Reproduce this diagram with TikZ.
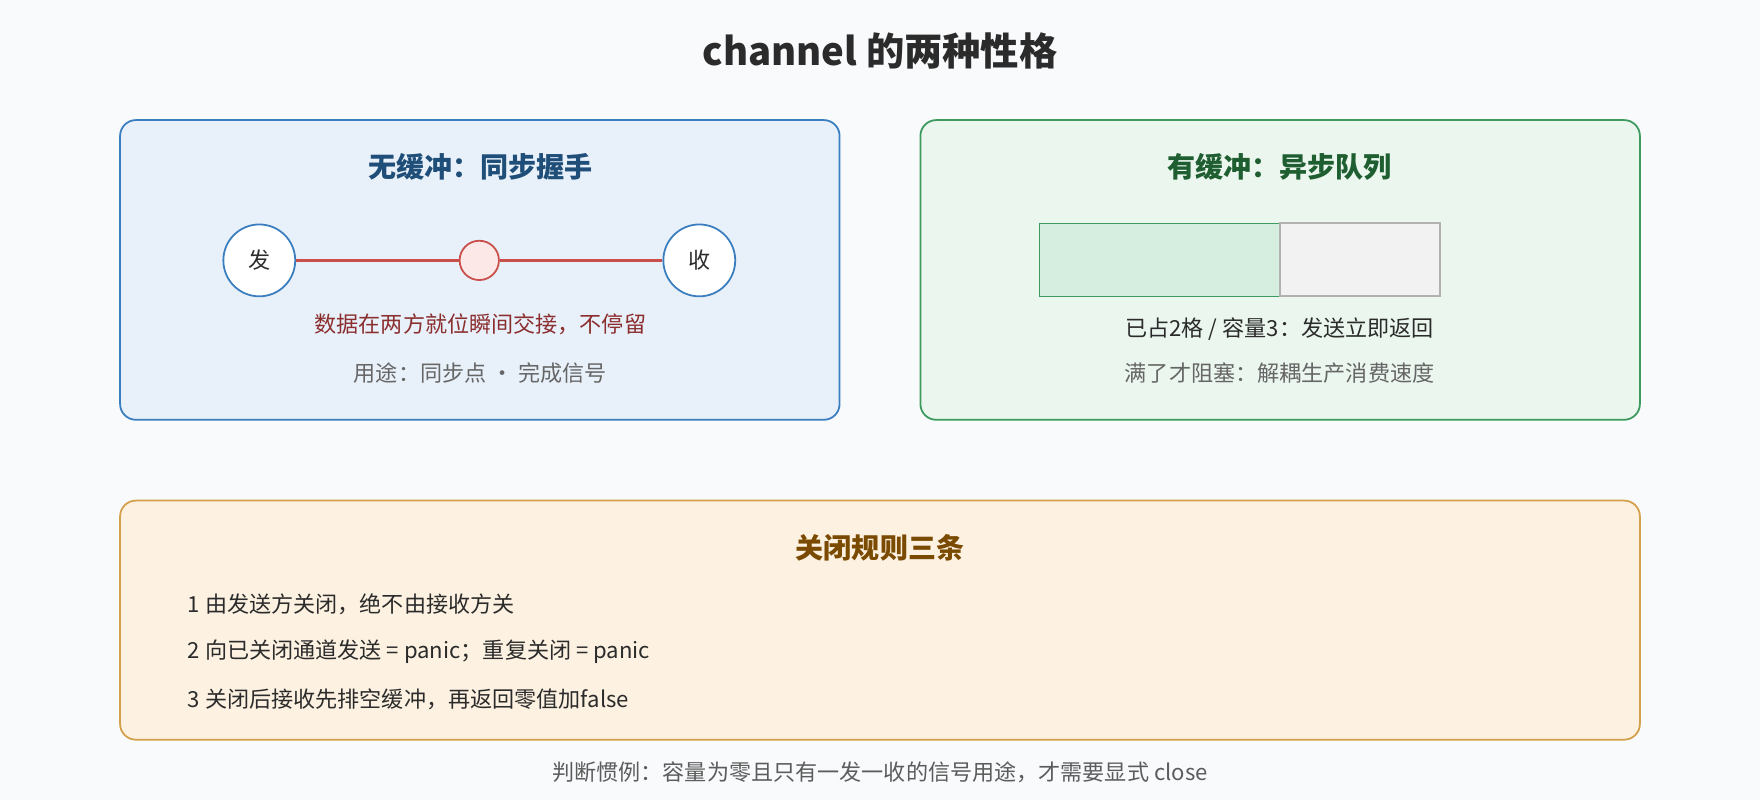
\documentclass[tikz,border=0pt]{standalone}
\usepackage{fontspec}
\setmainfont{Noto Sans CJK SC}
\usetikzlibrary{positioning}
\definecolor{bgc}{HTML}{F8FAFC}
\definecolor{bluefill}{HTML}{E8F0FA}
\definecolor{bluedraw}{HTML}{3A7EC0}
\definecolor{bluetext}{HTML}{1F4E79}
\definecolor{greenfill}{HTML}{EAF6EE}
\definecolor{greendraw}{HTML}{3D9A5E}
\definecolor{greentext}{HTML}{1E5E30}
\definecolor{slotfill}{HTML}{D6EEDF}
\definecolor{orangefill}{HTML}{FDF2E2}
\definecolor{orangedraw}{HTML}{D4A04A}
\definecolor{orangetext}{HTML}{7A4A00}
\definecolor{redline}{HTML}{C9504A}
\definecolor{redfill}{HTML}{FDE8E8}
\definecolor{redtext}{HTML}{8B2E2E}
\definecolor{darktext}{HTML}{2B2B2B}
\definecolor{graytext}{HTML}{666666}
\tikzset{
  panel/.style={rounded corners=4pt, line width=0.45pt},
  heading/.style={font=\fontsize{7.1pt}{8pt}\selectfont\bfseries},
  body/.style={font=\fontsize{5.6pt}{7pt}\selectfont},
  endpoint/.style={circle, draw=bluedraw, fill=white, line width=0.45pt, minimum size=0.64cm, inner sep=0pt, body, text=darktext},
}
\begin{document}
\begin{tikzpicture}[x=0.01cm,y=-0.01cm]
    \fill[bgc] (0,0) rectangle (1568,713);
    \useasboundingbox (0,0) rectangle (1568,713);
    \node[font=\fontsize{9.7pt}{11pt}\selectfont\bfseries, text=darktext] (title) at (784,45) {channel 的两种性格};
    % unbuffered
    \draw[panel, draw=bluedraw, fill=bluefill] (107,107) rectangle (748,374);
    \node[heading, text=bluetext] (unbufhead) at (428,149) {无缓冲：同步握手};
    \node[endpoint] (send) at (231,232) {发};
    \node[endpoint] (recv) at (623,232) {收};
    \node[circle, draw=redline, fill=redfill, line width=0.45pt, minimum size=0.35cm, inner sep=0pt] (data) at (427,232) {};
    \draw[redline, line width=0.9pt] (send) -- (data);
    \draw[redline, line width=0.9pt] (data) -- (recv);
    \node[body, text=redtext] (unbufnote) at (428,289) {数据在两方就位瞬间交接，不停留};
    \node[body, text=graytext] (unbufuse) at (428,332) {用途：同步点 · 完成信号};
    % buffered
    \draw[panel, draw=greendraw, fill=greenfill] (820,107) rectangle (1461,374);
    \node[heading, text=greentext] (bufhead) at (1140,149) {有缓冲：异步队列};
    \draw[fill=slotfill, draw=greendraw, line width=0.4pt] (926,199) rectangle (1140,264);
    \draw[fill=black!5, draw=black!30, line width=0.5pt] (1140,199) rectangle (1283,264);
    \node[body, text=darktext] (bufnote) at (1140,293) {已占2格 / 容量3：发送立即返回};
    \node[body, text=graytext] (bufuse) at (1140,332) {满了才阻塞：解耦生产消费速度};
    % close rules
    \draw[panel, draw=orangedraw, fill=orangefill] (107,446) rectangle (1461,659);
    \node[heading, text=orangetext] (rulehead) at (784,488) {关闭规则三条};
    \foreach \y/\txt in {538/1 由发送方关闭，绝不由接收方关,
                         581/2 向已关闭通道发送 = panic；重复关闭 = panic,
                         623/3 关闭后接收先排空缓冲，再返回零值加false}
      \node[body, text=darktext, anchor=west] at (155,\y) {\txt};
    \node[body, text=graytext!90!black] (footer) at (784,688) {判断惯例：容量为零且只有一发一收的信号用途，才需要显式 close};
\end{tikzpicture}
\end{document}
